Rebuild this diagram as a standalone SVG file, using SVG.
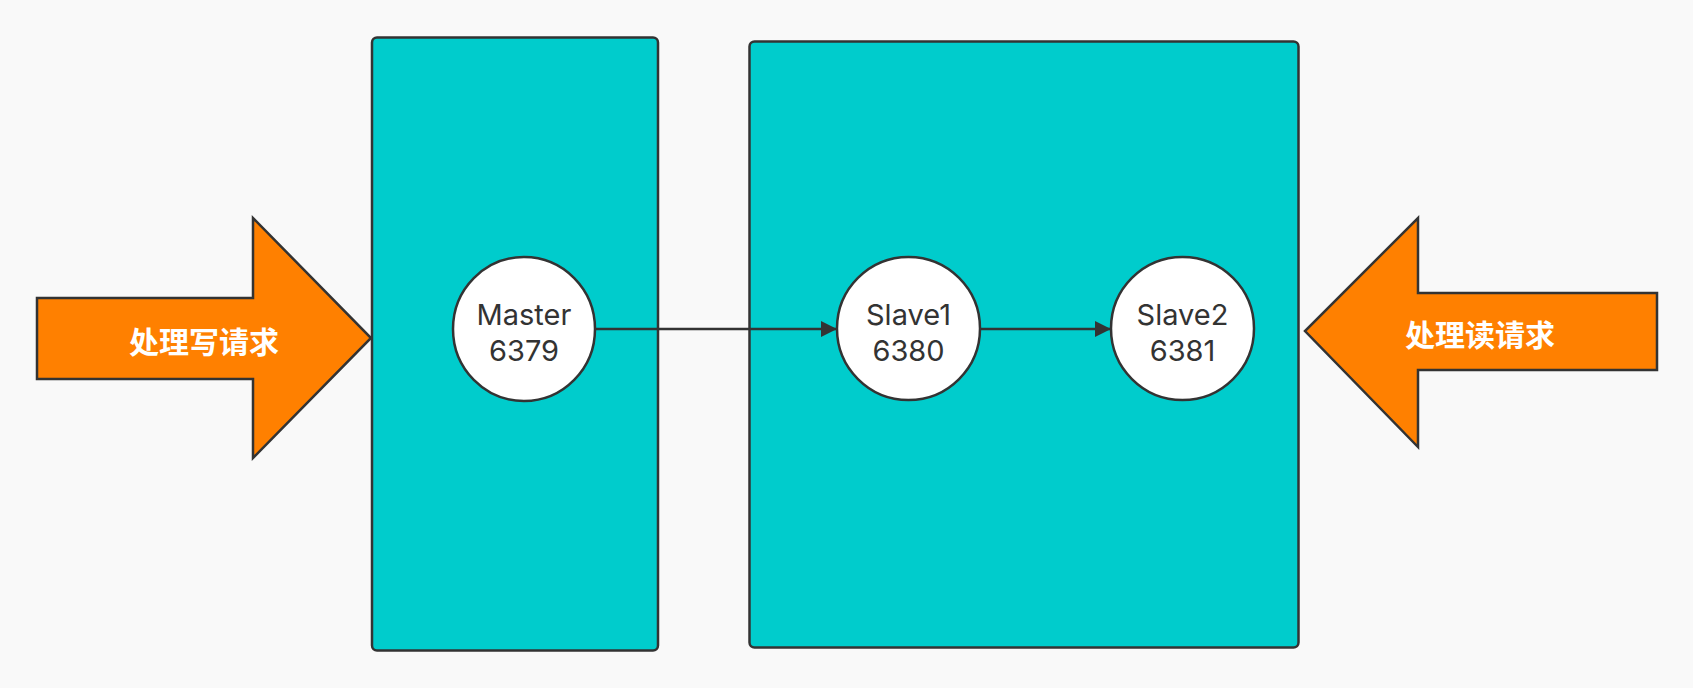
<svg xmlns="http://www.w3.org/2000/svg" width="1693" height="688" viewBox="0 0 1693 688">
<defs>
<style>
.box{fill:#00CCCC;stroke:#333333;stroke-width:2.5}
.node{fill:#FFFFFF;stroke:#333333;stroke-width:2.5}
.big{fill:#FF8000;stroke:#333333;stroke-width:2.5;stroke-linejoin:miter}
.lbl{font-family:Inter,"Noto Sans","Liberation Sans",sans-serif;font-size:29px;fill:#333333;text-anchor:middle}
.cn{font-family:"Noto Sans CJK SC",sans-serif;font-size:30px;font-weight:bold;fill:#FFFFFF;text-anchor:middle}
.edge{stroke:#333333;stroke-width:2.5;fill:none}
</style>
<marker id="ah" viewBox="0 0 10 10" refX="10" refY="5" markerWidth="24" markerHeight="16" markerUnits="userSpaceOnUse" orient="auto">
<path d="M0,0 L10,5 L0,10 Z" fill="#333333"/>
</marker>
</defs>
<rect width="1693" height="688" fill="#F9F9F9"/>
<g id="box-master"><rect class="box" x="372" y="37.5" width="286" height="613" rx="5"/></g>
<g id="box-slaves"><rect class="box" x="749.5" y="41.5" width="549" height="606" rx="5"/></g>
<g id="arrow-write">
<polygon class="big" points="37,298 253,298 253,218 371,338 253,458 253,379 37,379"/>
<text class="cn" x="204" y="353">处理写请求</text>
</g>
<g id="arrow-read">
<polygon class="big" points="1657,293 1418,293 1418,218 1305,331 1418,447 1418,370 1657,370"/>
<text class="cn" x="1480" y="346">处理读请求</text>
</g>
<g id="connectors">
<line class="edge" x1="595" y1="329" x2="837" y2="329" marker-end="url(#ah)"/>
<line class="edge" x1="980" y1="329" x2="1111" y2="329" marker-end="url(#ah)"/>
</g>
<g id="master">
<ellipse class="node" cx="524" cy="329" rx="71" ry="72"/>
<text class="lbl" x="524" y="325">Master</text>
<text class="lbl" x="524" y="361">6379</text>
</g>
<g id="slave1">
<ellipse class="node" cx="908.5" cy="328.5" rx="71.5" ry="71.5"/>
<text class="lbl" x="908.5" y="325">Slave1</text>
<text class="lbl" x="908.5" y="361">6380</text>
</g>
<g id="slave2">
<ellipse class="node" cx="1182.5" cy="328.5" rx="71.5" ry="71.5"/>
<text class="lbl" x="1182.5" y="325">Slave2</text>
<text class="lbl" x="1182.5" y="361">6381</text>
</g>
</svg>
